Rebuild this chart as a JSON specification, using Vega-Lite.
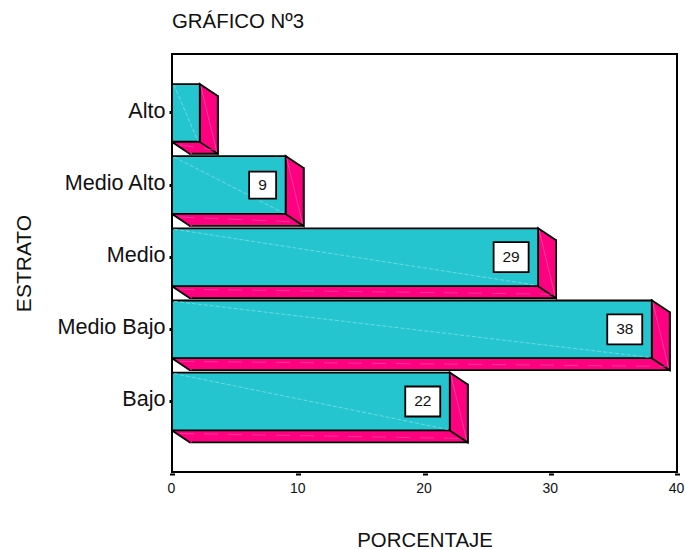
{
  "$schema": "https://vega.github.io/schema/vega-lite/v6.json",
  "width": 505,
  "height": 418,
  "autosize": "none",
  "padding": {"left": 172, "top": 54, "right": 8, "bottom": 78},
  "background": "white",
  "view": {"stroke": "#000", "strokeWidth": 2},
  "title": {"text": "GRÁFICO Nº3", "anchor": "start", "frame": "group", "font": "Liberation Sans", "fontSize": 20.4, "fontWeight": "normal", "color": "#111", "offset": 22},
  "data": {"values": [
    {"estrato": "Alto", "porcentaje": 2.2},
    {"estrato": "Medio Alto", "porcentaje": 9},
    {"estrato": "Medio", "porcentaje": 29},
    {"estrato": "Medio Bajo", "porcentaje": 38},
    {"estrato": "Bajo", "porcentaje": 22}
  ]},
  "encoding": {
    "x": {
      "field": "porcentaje", "type": "quantitative",
      "scale": {"domain": [0, 40], "nice": false},
      "axis": {"title": "PORCENTAJE", "titleFont": "Liberation Sans", "titleFontSize": 20.4, "titleFontWeight": "normal", "titleColor": "#111", "titlePadding": 35, "values": [0, 10, 20, 30, 40], "grid": false, "domain": false, "offset": 1, "tickColor": "#000", "tickSize": 2, "tickWidth": 5, "labelFont": "Liberation Sans", "labelFontSize": 14, "labelColor": "#111", "labelPadding": 6, "labelFlush": false, "labelOverlap": false, "labelOffset": -1}
    },
    "y": {
      "field": "estrato", "type": "nominal",
      "scale": {"domain": ["Alto", "Medio Alto", "Medio", "Medio Bajo", "Bajo"], "paddingInner": 0.2, "paddingOuter": 0.4967, "align": 0.419},
      "axis": {"title": "ESTRATO", "titleFont": "Liberation Sans", "titleFontSize": 21, "titleFontWeight": "normal", "titleColor": "#111", "titlePadding": 22, "grid": false, "domain": false, "tickColor": "#000", "tickSize": 3, "tickWidth": 3, "labelFont": "Liberation Sans", "labelFontSize": 21.6, "labelColor": "#111", "labelPadding": 4, "labelAngle": 0, "labelOffset": -1}
    }
  },
  "layer": [
    {
      "description": "Lower receding face, shifted back behind the front face",
      "mark": {"type": "bar", "fill": "#ff0080", "stroke": "#000", "strokeWidth": 1.8, "xOffset": 18, "x2Offset": 18, "yOffset": 12, "y2Offset": 12}
    },
    {
      "description": "Left end of the lower face",
      "mark": {"type": "point", "shape": "M0,.29 L.18,.41 L.2,.41 L.2,.29 Z", "size": 40000, "filled": true, "fill": "#ff0080", "stroke": null, "opacity": 1},
      "encoding": {"x": {"datum": 0, "type": "quantitative"}}
    },
    {
      "mark": {"type": "point", "shape": "M0,.29 L.18,.41", "size": 40000, "filled": false, "stroke": "#000", "strokeWidth": 1.8, "opacity": 1},
      "encoding": {"x": {"datum": 0, "type": "quantitative"}}
    },
    {
      "description": "Right receding face",
      "mark": {"type": "point", "shape": "M0,-.29 L.18,-.17 L.18,.41 L0,.29 Z", "size": 40000, "filled": true, "fill": "#ff0080", "stroke": "#000", "strokeWidth": 1.8, "opacity": 1}
    },
    {
      "description": "Front face",
      "mark": {"type": "bar", "fill": "#25c5d0", "stroke": "#000", "strokeWidth": 1.8}
    },
    {
      "description": "Sheen across the right face",
      "mark": {"type": "point", "shape": "M.01,-.27 L.17,.39", "size": 40000, "filled": false, "stroke": "#ff7fb8", "strokeWidth": 0.7, "opacity": 0.7}
    },
    {
      "description": "Sheen across the front face",
      "mark": {"type": "rule", "stroke": "#7fdde3", "strokeWidth": 0.8, "strokeDash": [4, 2], "yOffset": -28, "y2Offset": 28, "x2Offset": -2, "xOffset": 2},
      "encoding": {
        "x": {"datum": 0, "type": "quantitative"},
        "x2": {"field": "porcentaje"},
        "y2": {"field": "estrato"}
      }
    },
    {
      "description": "Sheen across the lower face",
      "mark": {"type": "rule", "stroke": "#ff5fa8", "strokeWidth": 0.8, "strokeDash": [14, 10], "yOffset": 32, "y2Offset": 37, "x2Offset": 14, "xOffset": 8, "opacity": 0.7},
      "encoding": {
        "x": {"datum": 0, "type": "quantitative"},
        "x2": {"field": "porcentaje"},
        "y2": {"field": "estrato"}
      }
    },
    {
      "description": "Value boxes, two digits",
      "transform": [{"filter": "datum.porcentaje >= 10"}],
      "mark": {"type": "point", "shape": "M-.175,-.15 L.175,-.15 L.175,.15 L-.175,.15 Z", "size": 40000, "filled": true, "fill": "#fff", "stroke": "#000", "strokeWidth": 1.8, "opacity": 1, "xOffset": -27}
    },
    {
      "description": "Value box, one digit",
      "transform": [{"filter": "datum.porcentaje >= 5 && datum.porcentaje < 10"}],
      "mark": {"type": "point", "shape": "M-.135,-.135 L.135,-.135 L.135,.135 L-.135,.135 Z", "size": 40000, "filled": true, "fill": "#fff", "stroke": "#000", "strokeWidth": 1.8, "opacity": 1, "xOffset": -23}
    },
    {
      "transform": [{"filter": "datum.porcentaje >= 10"}],
      "mark": {"type": "text", "font": "Liberation Sans", "fontSize": 15.5, "color": "#111", "xOffset": -27, "align": "center", "baseline": "middle"},
      "encoding": {"text": {"field": "porcentaje", "type": "quantitative"}}
    },
    {
      "transform": [{"filter": "datum.porcentaje >= 5 && datum.porcentaje < 10"}],
      "mark": {"type": "text", "font": "Liberation Sans", "fontSize": 15.5, "color": "#111", "xOffset": -23, "align": "center", "baseline": "middle"},
      "encoding": {"text": {"field": "porcentaje", "type": "quantitative"}}
    }
  ]
}
